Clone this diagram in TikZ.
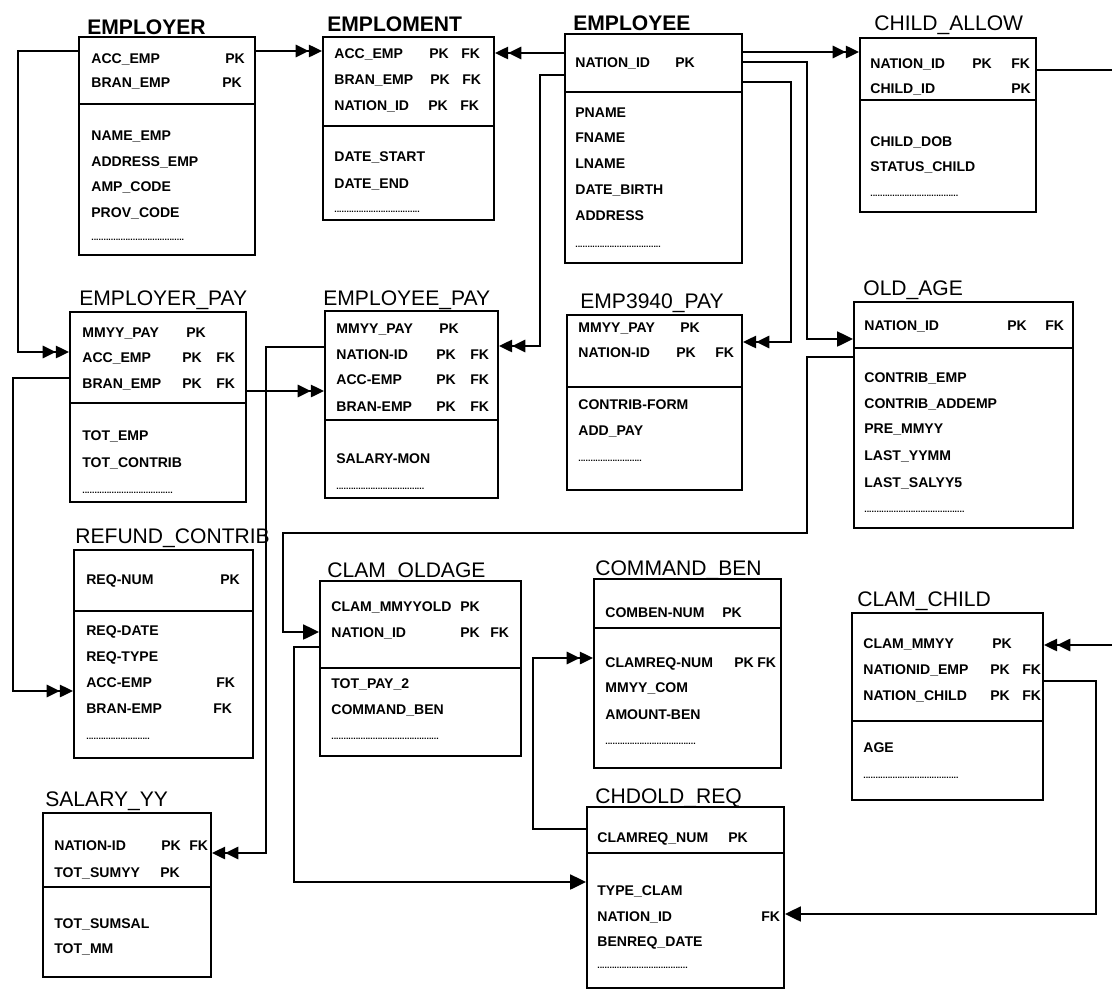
\documentclass[tikz,border=0pt]{standalone}
\usepackage{fontspec}
\setmainfont{Liberation Sans}
\usetikzlibrary{arrows.meta,fit}

\tikzset{
  tbox/.style={draw, line width=1.1pt, inner sep=0pt},
  tline/.style={line width=1.1pt},
  ttitle/.style={anchor=base west, inner sep=0pt, font=\fontsize{12}{14}\selectfont},
  btitle/.style={ttitle, font=\fontsize{12}{14}\selectfont\bfseries},
  field/.style={anchor=base west, inner sep=0pt, font=\fontsize{8}{9}\selectfont\bfseries},
  dotrow/.style={anchor=base west, inner sep=0pt, font=\fontsize{5}{6}\selectfont\bfseries},
  conn/.style={line width=1.1pt},
  twoarrow/.style={-{Triangle[length=7.5pt,width=7pt]Triangle[length=7.5pt,width=7pt]}},
  onearrow/.style={-{Triangle[length=9pt,width=8.5pt]}}
}

\begin{document}
\begin{tikzpicture}[x=0.02cm, y=-0.02cm]
\useasboundingbox (0,0) rectangle (1112,991);

% EMPLOYER
\node[btitle] (t-employer) at (87,34) {EMPLOYER};
\node[tbox, fit={(79,37) (255,255)}] (employer) {};
\draw[tline] (employer.west |- 0,104) -- (employer.east |- 0,104);
\node[field] (er-acc) at (91,63) {ACC\_EMP};
\node[field] (er-acc-pk) at (225,63) {PK};
\node[field] (er-bran) at (91,87) {BRAN\_EMP};
\node[field] (er-bran-pk) at (222,87) {PK};
\node[field] (er-name) at (91,140) {NAME\_EMP};
\node[field] (er-addr) at (91,166) {ADDRESS\_EMP};
\node[field] (er-amp) at (91,191) {AMP\_CODE};
\node[field] (er-prov) at (91,217) {PROV\_CODE};
\node[dotrow] (er-more) at (91,240) {......................................};

% EMPLOMENT
\node[btitle] (t-emploment) at (327,31) {EMPLOMENT};
\node[tbox, fit={(323,37) (494,220)}] (emploment) {};
\draw[tline] (emploment.west |- 0,126) -- (emploment.east |- 0,126);
\node[field] (em-acc) at (334,58) {ACC\_EMP};
\node[field] (em-acc-pk) at (429,58) {PK};
\node[field] (em-acc-fk) at (461,58) {FK};
\node[field] (em-bran) at (334,84) {BRAN\_EMP};
\node[field] (em-bran-pk) at (430,84) {PK};
\node[field] (em-bran-fk) at (462,84) {FK};
\node[field] (em-nid) at (334,110) {NATION\_ID};
\node[field] (em-nid-pk) at (428,110) {PK};
\node[field] (em-nid-fk) at (460,110) {FK};
\node[field] (em-start) at (334,161) {DATE\_START};
\node[field] (em-end) at (334,188) {DATE\_END};
\node[dotrow] (em-more) at (334,212) {...................................};

% EMPLOYEE
\node[btitle] (t-employee) at (573,30) {EMPLOYEE};
\node[tbox, fit={(565,34) (742,263)}] (employee) {};
\draw[tline] (employee.west |- 0,92) -- (employee.east |- 0,92);
\node[field] (ee-nid) at (575,67) {NATION\_ID};
\node[field] (ee-nid-pk) at (675,67) {PK};
\node[field] (ee-pname) at (575,117) {PNAME};
\node[field] (ee-fname) at (575,142) {FNAME};
\node[field] (ee-lname) at (575,168) {LNAME};
\node[field] (ee-birth) at (575,194) {DATE\_BIRTH};
\node[field] (ee-addr) at (575,220) {ADDRESS};
\node[dotrow] (ee-more) at (575,247) {...................................};

% CHILD_ALLOW
\node[ttitle] (t-childallow) at (874,30) {CHILD\_ALLOW};
\node[tbox, fit={(860,38) (1036,212)}] (childallow) {};
\draw[tline] (childallow.west |- 0,100) -- (childallow.east |- 0,100);
\node[field] (ca-nid) at (870,68) {NATION\_ID};
\node[field] (ca-nid-pk) at (972,68) {PK};
\node[field] (ca-nid-fk) at (1011,68) {FK};
\node[field] (ca-cid) at (870,93) {CHILD\_ID};
\node[field] (ca-cid-pk) at (1011,93) {PK};
\node[field] (ca-dob) at (870,146) {CHILD\_DOB};
\node[field] (ca-status) at (870,171) {STATUS\_CHILD};
\node[dotrow] (ca-more) at (870,196) {....................................};

% EMPLOYER_PAY
\node[ttitle] (t-employerpay) at (79,305) {EMPLOYER\_PAY};
\node[tbox, fit={(70,312) (246,502)}] (employerpay) {};
\draw[tline] (employerpay.west |- 0,403) -- (employerpay.east |- 0,403);
\node[field] (rp-mmyy) at (82,337) {MMYY\_PAY};
\node[field] (rp-mmyy-pk) at (186,337) {PK};
\node[field] (rp-acc) at (82,362) {ACC\_EMP};
\node[field] (rp-acc-pk) at (182,362) {PK};
\node[field] (rp-acc-fk) at (216,362) {FK};
\node[field] (rp-bran) at (82,388) {BRAN\_EMP};
\node[field] (rp-bran-pk) at (182,388) {PK};
\node[field] (rp-bran-fk) at (216,388) {FK};
\node[field] (rp-totemp) at (82,440) {TOT\_EMP};
\node[field] (rp-totcon) at (82,467) {TOT\_CONTRIB};
\node[dotrow] (rp-more) at (82,493) {.....................................};

% EMPLOYEE_PAY
\node[ttitle] (t-employeepay) at (323,305) {EMPLOYEE\_PAY};
\node[tbox, fit={(325,311) (498,498)}] (employeepay) {};
\draw[tline] (employeepay.west |- 0,420) -- (employeepay.east |- 0,420);
\node[field] (ep-mmyy) at (336,333) {MMYY\_PAY};
\node[field] (ep-mmyy-pk) at (439,333) {PK};
\node[field] (ep-nid) at (336,359) {NATION-ID};
\node[field] (ep-nid-pk) at (436,359) {PK};
\node[field] (ep-nid-fk) at (470,359) {FK};
\node[field] (ep-acc) at (336,384) {ACC-EMP};
\node[field] (ep-acc-pk) at (436,384) {PK};
\node[field] (ep-acc-fk) at (470,384) {FK};
\node[field] (ep-bran) at (336,411) {BRAN-EMP};
\node[field] (ep-bran-pk) at (436,411) {PK};
\node[field] (ep-bran-fk) at (470,411) {FK};
\node[field] (ep-salary) at (336,463) {SALARY-MON};
\node[dotrow] (ep-more) at (336,489) {....................................};

% EMP3940_PAY
\node[ttitle] (t-emppay) at (580,308) {EMP3940\_PAY};
\node[tbox, fit={(567,315) (742,490)}] (emppay) {};
\draw[tline] (emppay.west |- 0,387) -- (emppay.east |- 0,387);
\node[field] (e3-mmyy) at (578,332) {MMYY\_PAY};
\node[field] (e3-mmyy-pk) at (680,332) {PK};
\node[field] (e3-nid) at (578,357) {NATION-ID};
\node[field] (e3-nid-pk) at (676,357) {PK};
\node[field] (e3-nid-fk) at (715,357) {FK};
\node[field] (e3-form) at (578,409) {CONTRIB-FORM};
\node[field] (e3-add) at (578,435) {ADD\_PAY};
\node[dotrow] (e3-more) at (578,461) {..........................};

% OLD_AGE
\node[ttitle] (t-oldage) at (863,295) {OLD\_AGE};
\node[tbox, fit={(854,302) (1073,528)}] (oldage) {};
\draw[tline] (oldage.west |- 0,348) -- (oldage.east |- 0,348);
\node[field] (oa-nid) at (864,330) {NATION\_ID};
\node[field] (oa-nid-pk) at (1007,330) {PK};
\node[field] (oa-nid-fk) at (1045,330) {FK};
\node[field] (oa-emp) at (864,382) {CONTRIB\_EMP};
\node[field] (oa-addemp) at (864,408) {CONTRIB\_ADDEMP};
\node[field] (oa-pre) at (864,433) {PRE\_MMYY};
\node[field] (oa-last) at (864,460) {LAST\_YYMM};
\node[field] (oa-sal) at (864,487) {LAST\_SALYY5};
\node[dotrow] (oa-more) at (864,512) {.........................................};

% REFUND_CONTRIB
\node[ttitle] (t-refund) at (75,543) {REFUND\_CONTRIB};
\node[tbox, fit={(74,550) (253,758)}] (refund) {};
\draw[tline] (refund.west |- 0,611) -- (refund.east |- 0,611);
\node[field] (rc-num) at (86,584) {REQ-NUM};
\node[field] (rc-num-pk) at (220,584) {PK};
\node[field] (rc-date) at (86,635) {REQ-DATE};
\node[field] (rc-type) at (86,661) {REQ-TYPE};
\node[field] (rc-acc) at (86,687) {ACC-EMP};
\node[field] (rc-acc-fk) at (216,687) {FK};
\node[field] (rc-bran) at (86,713) {BRAN-EMP};
\node[field] (rc-bran-fk) at (213,713) {FK};
\node[dotrow] (rc-more) at (86,739) {..........................};

% CLAM_OLDAGE
\node[ttitle] (t-clamold) at (327,577) {CLAM\_OLDAGE};
\node[tbox, fit={(320,581) (521,756)}] (clamold) {};
\draw[tline] (clamold.west |- 0,668) -- (clamold.east |- 0,668);
\node[field] (co-mmyy) at (331,611) {CLAM\_MMYYOLD};
\node[field] (co-mmyy-pk) at (460,611) {PK};
\node[field] (co-nid) at (331,637) {NATION\_ID};
\node[field] (co-nid-pk) at (460,637) {PK};
\node[field] (co-nid-fk) at (490,637) {FK};
\node[field] (co-tot) at (331,688) {TOT\_PAY\_2};
\node[field] (co-ben) at (331,714) {COMMAND\_BEN};
\node[dotrow] (co-more) at (331,739) {............................................};

% COMMAND_BEN
\node[ttitle] (t-commandben) at (595,575) {COMMAND\_BEN};
\node[tbox, fit={(594,579) (781,768)}] (commandben) {};
\draw[tline] (commandben.west |- 0,628) -- (commandben.east |- 0,628);
\node[field] (cb-num) at (605,617) {COMBEN-NUM};
\node[field] (cb-num-pk) at (722,617) {PK};
\node[field] (cb-req) at (605,667) {CLAMREQ-NUM};
\node[field] (cb-req-pk) at (734,667) {PK};
\node[field] (cb-req-fk) at (757,667) {FK};
\node[field] (cb-mmyy) at (605,692) {MMYY\_COM};
\node[field] (cb-amount) at (605,719) {AMOUNT-BEN};
\node[dotrow] (cb-more) at (605,744) {.....................................};

% CHDOLD_REQ
\node[ttitle] (t-chdold) at (595,803) {CHDOLD\_REQ};
\node[tbox, fit={(587,807) (784,988)}] (chdold) {};
\draw[tline] (chdold.west |- 0,853) -- (chdold.east |- 0,853);
\node[field] (cr-num) at (597,842) {CLAMREQ\_NUM};
\node[field] (cr-num-pk) at (728,842) {PK};
\node[field] (cr-type) at (597,895) {TYPE\_CLAM};
\node[field] (cr-nid) at (597,921) {NATION\_ID};
\node[field] (cr-nid-fk) at (761,921) {FK};
\node[field] (cr-date) at (597,946) {BENREQ\_DATE};
\node[dotrow] (cr-more) at (597,968) {.....................................};

% CLAM_CHILD
\node[ttitle] (t-clamchild) at (857,606) {CLAM\_CHILD};
\node[tbox, fit={(852,613) (1043,800)}] (clamchild) {};
\draw[tline] (clamchild.west |- 0,721) -- (clamchild.east |- 0,721);
\node[field] (cc-mmyy) at (863,648) {CLAM\_MMYY};
\node[field] (cc-mmyy-pk) at (992,648) {PK};
\node[field] (cc-emp) at (863,674) {NATIONID\_EMP};
\node[field] (cc-emp-pk) at (990,674) {PK};
\node[field] (cc-emp-fk) at (1022,674) {FK};
\node[field] (cc-child) at (863,700) {NATION\_CHILD};
\node[field] (cc-child-pk) at (990,700) {PK};
\node[field] (cc-child-fk) at (1022,700) {FK};
\node[field] (cc-age) at (863,752) {AGE};
\node[dotrow] (cc-more) at (863,778) {.......................................};

% SALARY_YY
\node[ttitle] (t-salary) at (45,806) {SALARY\_YY};
\node[tbox, fit={(43,813) (211,977)}] (salary) {};
\draw[tline] (salary.west |- 0,887) -- (salary.east |- 0,887);
\node[field] (sy-nid) at (54,850) {NATION-ID};
\node[field] (sy-nid-pk) at (161,850) {PK};
\node[field] (sy-nid-fk) at (189,850) {FK};
\node[field] (sy-sum) at (54,877) {TOT\_SUMYY};
\node[field] (sy-sum-pk) at (160,877) {PK};
\node[field] (sy-sal) at (54,928) {TOT\_SUMSAL};
\node[field] (sy-mm) at (54,953) {TOT\_MM};

% links
\draw[conn,twoarrow] (employer.east |- 0,51) -- (emploment.west |- 0,51);
\draw[conn,twoarrow] (employer.west |- 0,51) -- ++(-60,0) |- (employerpay.west |- 0,352);
\draw[conn,twoarrow] (employee.west |- 0,53) -- (emploment.east |- 0,53);
\draw[conn,twoarrow] (employee.west |- 0,75) -- ++(-24,0) |- (employeepay.east |- 0,346);
\draw[conn,twoarrow] (employee.east |- 0,52) -- (childallow.west |- 0,52);
\draw[conn,onearrow] (employee.east |- 0,62) -- ++(64,0) |- (oldage.west |- 0,339);
\draw[conn,twoarrow] (employee.east |- 0,82) -- ++(48,0) |- (emppay.east |- 0,342);
\draw[conn,twoarrow] (employerpay.east |- 0,391) -- (employeepay.west |- 0,391);
\draw[conn,twoarrow] (employerpay.west |- 0,378) -- ++(-56,0) |- (refund.west |- 0,691);
\draw[conn,twoarrow] (employeepay.west |- 0,347) -- ++(-58,0) |- (salary.east |- 0,853);
\draw[conn,onearrow] (oldage.west |- 0,357) -- ++(-46,0) |- (283,533) |- (clamold.west |- 0,632);
\draw[conn,onearrow] (clamold.west |- 0,647) -- ++(-25,0) |- (chdold.west |- 0,882);
\draw[conn,twoarrow] (chdold.west |- 0,829) -- ++(-53,0) |- (commandben.west |- 0,658);
\draw[conn,onearrow] (clamchild.east |- 0,681) -- ++(52,0) |- (chdold.east |- 0,914);
\draw[conn,twoarrow] (childallow.east |- 0,70) -- ++(90,0) |- (clamchild.east |- 0,645);
\end{tikzpicture}
\end{document}
